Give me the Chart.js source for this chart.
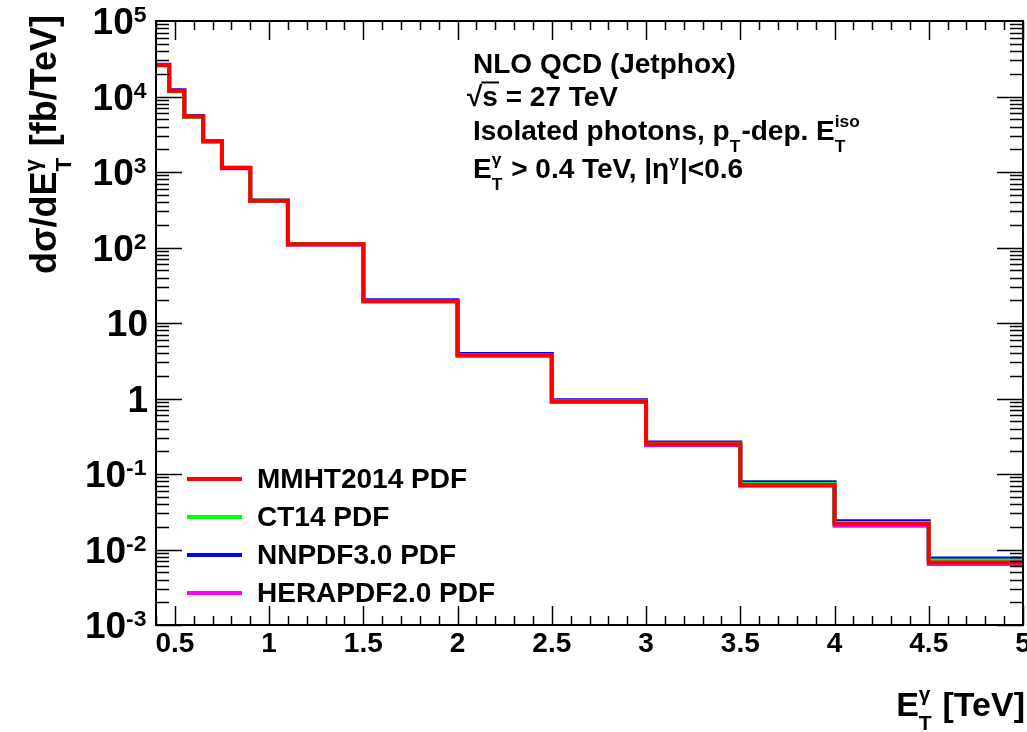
<!DOCTYPE html>
<html>
<head>
<meta charset="utf-8">
<script src="https://cdn.jsdelivr.net/npm/chart.js@4.4.0/dist/chart.umd.min.js"></script>
<style>
  html, body { margin: 0; padding: 0; background: #fff; overflow: hidden; }
  canvas { display: block; }
</style>
</head>
<body>
<canvas id="myChart" width="1027" height="732"></canvas>
<script>
// bin edges in TeV and d(sigma)/dE_T in fb/TeV for each PDF set
const binEdges = [0.4, 0.47, 0.55, 0.65, 0.75, 0.9, 1.1, 1.5, 2, 2.5, 3, 3.5, 4, 4.5, 5];
const mmht2014 = [26200, 11900, 5450, 2550, 1130, 416, 110, 19.5, 3.74, 0.918, 0.247, 0.0713, 0.0217, 0.00673];
const ct14 = [26000, 11800, 5400, 2540, 1130, 415, 110, 19.6, 3.78, 0.93, 0.252, 0.0735, 0.0225, 0.00714];
const nnpdf30 = [26400, 12100, 5500, 2570, 1140, 420, 111.5, 20.0, 3.89, 0.95, 0.262, 0.0775, 0.0237, 0.00759];
const herapdf20 = [26000, 11700, 5400, 2530, 1120, 412, 109, 19.3, 3.68, 0.90, 0.243, 0.0700, 0.0206, 0.00645];
const seriesNames = ["MMHT2014 PDF", "CT14 PDF", "NNPDF3.0 PDF", "HERAPDF2.0 PDF"];
const seriesColors = ["#ff0000", "#00ff00", "#0000ff", "#ff00ff"];

const xTickValues = [0.5, 1, 1.5, 2, 2.5, 3, 3.5, 4, 4.5, 5];
const xTickLabels = ["0.5", "1", "1.5", "2", "2.5", "3", "3.5", "4", "4.5", "5"];
const yTickValues = [1e5, 1e4, 1e3, 1e2, 10, 1, 0.1, 0.01, 0.001];
const yTickLabels = ["10^5", "10^4", "10^3", "10^2", "10", "1", "10^-1", "10^-2", "10^-3"];

function histPoints(vals) {
  // one point per bin edge, last edge repeats the last value
  return binEdges.map((e, i) => ({ x: e, y: vals[Math.min(i, vals.length - 1)] }));
}

const FONT = '"Liberation Sans", Arial, Helvetica, sans-serif';
function font(size) { return "bold " + size + "px " + FONT; }

function segWidth(ctx, seg, size) {
  if (typeof seg === "string") { ctx.font = font(size); return ctx.measureText(seg).width; }
  ctx.font = font(size * 0.62);
  let w = 0;
  if (seg.sub) w = Math.max(w, ctx.measureText(seg.sub).width);
  if (seg.sup) w = Math.max(w, ctx.measureText(seg.sup).width);
  return w + size * 0.04;
}

function drawRich(ctx, segs, x, y, size, align) {
  const total = segs.reduce((a, s) => a + segWidth(ctx, s, size), 0);
  if (align === "right") x -= total;
  else if (align === "center") x -= total / 2;
  ctx.textAlign = "left";
  ctx.textBaseline = "alphabetic";
  ctx.fillStyle = "#000";
  for (const s of segs) {
    const w = segWidth(ctx, s, size);
    if (typeof s === "string") {
      ctx.font = font(size);
      ctx.fillText(s, x, y);
    } else {
      ctx.font = font(size * 0.62);
      if (s.sub) ctx.fillText(s.sub, x, y + size * 0.42);
      if (s.sup) ctx.fillText(s.sup, x, y - size * (s.raise || 0.45));
    }
    x += w;
  }
}

const rootStyle = {
  id: "rootStyle",
  beforeDraw(chart) {
    const ctx = chart.ctx;
    ctx.save();
    ctx.fillStyle = "#fff";
    ctx.fillRect(0, 0, chart.width, chart.height);
    ctx.restore();
  },
  afterDraw(chart) {
    const ctx = chart.ctx;
    const a = chart.chartArea;
    const xs = chart.scales.x, ys = chart.scales.y;
    ctx.save();

    // ticks, inside the frame on all four sides
    ctx.strokeStyle = "#000";
    ctx.lineWidth = 1.5;
    ctx.beginPath();
    for (let v = 0.4; v <= 5.0001; v += 0.1) {
      const px = Math.round(xs.getPixelForValue(v)) + 0.5;
      const major = Math.abs(v * 2 - Math.round(v * 2)) < 1e-6;
      const len = major ? 19 : 9;
      ctx.moveTo(px, a.bottom); ctx.lineTo(px, a.bottom - len);
      ctx.moveTo(px, a.top); ctx.lineTo(px, a.top + len);
    }
    for (let e = -3; e <= 4; e++) {
      for (let m = 1; m <= 9; m++) {
        const py = Math.round(ys.getPixelForValue(m * Math.pow(10, e))) + 0.5;
        const len = m === 1 ? 26 : 13;
        ctx.moveTo(a.left, py); ctx.lineTo(a.left + len, py);
        ctx.moveTo(a.right, py); ctx.lineTo(a.right - len, py);
      }
    }
    ctx.stroke();

    // frame
    ctx.lineWidth = 2;
    ctx.strokeRect(a.left, a.top, a.right - a.left, a.bottom - a.top);

    // x tick labels
    ctx.fillStyle = "#000";
    ctx.font = font(28);
    ctx.textAlign = "center";
    ctx.textBaseline = "alphabetic";
    xTickValues.forEach((v, i) => {
      ctx.fillText(xTickLabels[i], xs.getPixelForValue(v), 652);
    });

    // y tick labels
    const ls = 37;
    yTickValues.forEach((v, i) => {
      const parts = yTickLabels[i].split("^");
      const segs = parts.length > 1 ? [parts[0], { sup: parts[1], raise: 0.33 }] : [parts[0]];
      const py = ys.getPixelForValue(v);
      drawRich(ctx, segs, 148, py + ls * 0.36, ls, "right");
    });

    // axis titles
    drawRich(ctx, ["E", { sub: "T", sup: "γ" }, " [TeV]"], 1025, 716, 34, "right");
    ctx.save();
    ctx.translate(56, 274);
    ctx.rotate(-Math.PI / 2);
    drawRich(ctx, ["dσ/dE", { sub: "T", sup: "γ" }, " [fb/TeV]"], 0, 0, 36, "left");
    ctx.restore();

    // annotation text
    const ts = 28;
    drawRich(ctx, ["NLO QCD (Jetphox)"], 473, 73, ts, "left");
    ctx.font = font(ts);
    ctx.fillText("√", 467, 106);
    const rw = ctx.measureText("√").width;
    const sw = ctx.measureText("s").width;
    ctx.fillText("s = 27 TeV", 467 + rw, 106);
    ctx.lineWidth = 2;
    ctx.beginPath();
    ctx.moveTo(467 + rw - 1, 106 - ts * 0.84);
    ctx.lineTo(467 + rw + sw + 1, 106 - ts * 0.84);
    ctx.stroke();
    drawRich(ctx, ["Isolated photons, p", { sub: "T" }, "-dep. E", { sub: "T", sup: "iso" }], 473, 140, ts, "left");
    drawRich(ctx, ["E", { sub: "T", sup: "γ" }, " > 0.4 TeV, |η", { sup: "γ", raise: 0.4 }, "|<0.6"], 473, 178, ts, "left");

    // legend
    chart.data.datasets.forEach((ds, i) => {
      const ly = 479 + i * 38;
      ctx.strokeStyle = ds.borderColor;
      ctx.lineWidth = 4;
      ctx.beginPath();
      ctx.moveTo(187, ly); ctx.lineTo(242, ly);
      ctx.stroke();
      ctx.fillStyle = "#000";
      ctx.font = font(28);
      ctx.textAlign = "left";
      ctx.textBaseline = "middle";
      ctx.fillText(ds.label, 257, ly + 1);
    });
    ctx.restore();
  }
};

const allSeries = [mmht2014, ct14, nnpdf30, herapdf20];
const ctx = document.getElementById("myChart").getContext("2d");
const myChart = new Chart(ctx, {
  type: "line",
  data: {
    datasets: allSeries.map((vals, i) => ({
      label: seriesNames[i],
      data: histPoints(vals),
      borderColor: seriesColors[i],
      backgroundColor: seriesColors[i],
      borderWidth: 4,
      stepped: true,
      pointRadius: 0,
      fill: false,
      borderJoinStyle: "miter",
      borderCapStyle: "butt",
    })),
  },
  options: {
    responsive: false,
    animation: false,
    devicePixelRatio: 1,
    layout: { padding: { left: 156, right: 4, top: 21, bottom: 107 } },
    plugins: {
      legend: { display: false },
      tooltip: { enabled: false },
    },
    scales: {
      x: { type: "linear", min: 0.4, max: 5, display: false },
      y: { type: "logarithmic", min: 0.001, max: 100000, display: false },
    },
  },
  plugins: [rootStyle],
});
</script>
</body>
</html>
